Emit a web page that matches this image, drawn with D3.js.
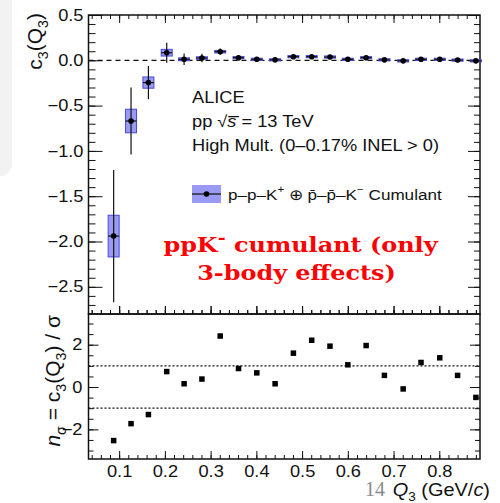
<!DOCTYPE html>
<html>
<head>
<meta charset="utf-8">
<script src="https://cdn.jsdelivr.net/npm/d3@7"></script>
<style>
  body { margin: 0; background: #fff; }
  svg { display: block; }
</style>
</head>
<body>
<svg id="chart" width="500" height="503"></svg>
<script>
// ---- data ----
// mean Q3 of each bin (GeV/c)
const q3 = [0.088, 0.126, 0.164, 0.204, 0.242, 0.281, 0.321, 0.361, 0.401, 0.441, 0.481,
            0.521, 0.561, 0.600, 0.640, 0.680, 0.721, 0.760, 0.801, 0.840, 0.880];
// three-body cumulant c3(Q3)
const c3 = [-1.94, -0.67, -0.246, 0.084, 0.011, 0.025, 0.095, 0.029, 0.011, 0.005, 0.040,
            0.040, 0.036, 0.011, 0.029, 0.005, -0.006, 0.011, 0.011, 0.002, -0.006];
// statistical uncertainty
const statErr = [0.73, 0.37, 0.183, 0.11, 0.064, 0.046, 0.035, 0.03, 0.025, 0.025, 0.025,
                 0.02, 0.02, 0.02, 0.02, 0.02, 0.02, 0.02, 0.02, 0.02, 0.02];
// systematic uncertainty (boxes)
const sysErr = [0.23, 0.13, 0.062, 0.037, 0.016, 0.014, 0.014, 0.012, 0.012, 0.012, 0.012,
                0.012, 0.012, 0.012, 0.012, 0.012, 0.012, 0.012, 0.012, 0.012, 0.012];
const boxHalfWidth = 0.012;
// significance n_sigma = c3 / sigma
const nSigma = [-2.53, -1.73, -1.30, 0.73, 0.155, 0.376, 2.41, 0.875, 0.67, 0.155, 1.60,
                2.21, 1.93, 1.05, 1.96, 0.55, -0.09, 1.16, 1.38, 0.55, -0.49];

const xMajor = [0.1, 0.2, 0.3, 0.4, 0.5, 0.6, 0.7, 0.8];
const xMinor = d3.range(2, 45).map(i => i * 0.02);
const topMajor = [0.5, 0, -0.5, -1, -1.5, -2, -2.5];
const topMinor = d3.range(-27, 6).map(i => i * 0.1);
const botMajor = [-2, 0, 2];
const botMinor = d3.range(-6, 7).map(i => i * 0.5);
const sigmaBands = [1, -1];

// ---- layout ----
const L = 88.5, R = 480, T = 15, MID = 314, B = 459;
const SX = 1.14;          // horizontal widening of the text
const FONT = "'Liberation Sans', Arial, sans-serif";

const svg = d3.select("#chart");

// light side tab at the left edge
svg.append("rect").attr("x", -14).attr("y", -14).attr("width", 26).attr("height", 190)
  .attr("rx", 12).attr("fill", "#f2f2f2");

const x = d3.scaleLinear().domain([0.033, 0.889]).range([L, R]);
const yTop = d3.scaleLinear().domain([-2.8, 0.5]).range([MID, T]);
const yBot = d3.scaleLinear().domain([-3.4, 3.45]).range([B, MID]);

// stretched text helper; segments allow sub/superscripts and italics
function richText(parent, px, py, segs, opt = {}) {
  const t = parent.append("text")
    .attr("transform", opt.transform || `translate(${px},${py}) scale(${SX},1)`)
    .attr("font-family", opt.family || FONT)
    .attr("font-size", opt.size || 16)
    .attr("font-weight", opt.weight || null)
    .attr("fill", opt.fill || "#111")
    .attr("text-anchor", opt.anchor || "start");
  let shift = 0;
  const base = opt.size || 16;
  segs.forEach(s => {
    if (typeof s === "string") s = { t: s };
    const ts = t.append("tspan").text(s.t);
    let target = 0;
    if (s.sup) target = -0.42 * base;
    if (s.sub) target = 0.28 * base;
    if (target !== shift) { ts.attr("dy", target - shift); shift = target; }
    if (s.sup || s.sub) ts.attr("font-size", base * (s.scale || 0.68));
    if (s.italic) ts.attr("font-style", "italic");
  });
  return t;
}

function styleAxis(g, w) {
  g.select(".domain").remove();
  g.selectAll(".tick line").attr("stroke", "#111").attr("stroke-width", w || 1);
}

function stretchLabels(g) {
  g.selectAll(".tick text")
    .attr("fill", "#111")
    .attr("font-family", FONT)
    .attr("font-size", 16)
    .attr("transform", function () {
      const xx = +d3.select(this).attr("x") || 0;
      return `translate(${xx},0) scale(${SX},1) translate(${-xx},0)`;
    });
}

function addAxis(gen, tx, ty, w) {
  const g = svg.append("g").attr("transform", `translate(${tx},${ty})`).call(gen);
  styleAxis(g, w);
  return g;
}
const none = () => "";

// ---- axes of the upper panel ----
let g = addAxis(d3.axisLeft(yTop).tickValues(topMajor).tickSize(-14).tickSizeOuter(0)
  .tickPadding(5).tickFormat(d3.format(".1f")), L, 0);
stretchLabels(g);
addAxis(d3.axisLeft(yTop).tickValues(topMinor).tickSize(-7).tickSizeOuter(0).tickFormat(none), L, 0);
addAxis(d3.axisRight(yTop).tickValues(topMajor).tickSize(-12).tickSizeOuter(0).tickFormat(none), R, 0);
addAxis(d3.axisRight(yTop).tickValues(topMinor).tickSize(-6).tickSizeOuter(0).tickFormat(none), R, 0);
addAxis(d3.axisTop(x).tickValues(xMajor).tickSize(-8).tickSizeOuter(0).tickFormat(none), 0, T);
addAxis(d3.axisTop(x).tickValues(xMinor).tickSize(-4).tickSizeOuter(0).tickFormat(none), 0, T);
addAxis(d3.axisBottom(x).tickValues(xMajor).tickSize(-8).tickSizeOuter(0).tickFormat(none), 0, MID);
addAxis(d3.axisBottom(x).tickValues(xMinor).tickSize(-4).tickSizeOuter(0).tickFormat(none), 0, MID);

// ---- axes of the lower panel ----
g = addAxis(d3.axisLeft(yBot).tickValues(botMajor).tickSize(-10).tickSizeOuter(0)
  .tickPadding(6).tickFormat(d3.format("d")), L, 0);
stretchLabels(g);
addAxis(d3.axisLeft(yBot).tickValues(botMinor).tickSize(-5).tickSizeOuter(0).tickFormat(none), L, 0);
addAxis(d3.axisRight(yBot).tickValues(botMajor).tickSize(-10).tickSizeOuter(0).tickFormat(none), R, 0);
addAxis(d3.axisRight(yBot).tickValues(botMinor).tickSize(-5).tickSizeOuter(0).tickFormat(none), R, 0);
addAxis(d3.axisTop(x).tickValues(xMajor).tickSize(8).tickSizeOuter(0).tickFormat(none), 0, MID);
addAxis(d3.axisTop(x).tickValues(xMinor).tickSize(4).tickSizeOuter(0).tickFormat(none), 0, MID);
g = addAxis(d3.axisBottom(x).tickValues(xMajor).tickSize(-8).tickSizeOuter(0)
  .tickPadding(0).tickFormat(d3.format(".1f")), 0, B);
g.selectAll(".tick text").attr("y", 18.5).attr("dy", null);
stretchLabels(g);
addAxis(d3.axisBottom(x).tickValues(xMinor).tickSize(-4).tickSizeOuter(0).tickFormat(none), 0, B);

// ---- frames ----
svg.append("rect").attr("x", L).attr("y", T).attr("width", R - L).attr("height", MID - T)
  .attr("fill", "none").attr("stroke", "#111").attr("stroke-width", 1.5);
svg.append("rect").attr("x", L).attr("y", MID).attr("width", R - L).attr("height", B - MID)
  .attr("fill", "none").attr("stroke", "#111").attr("stroke-width", 1.5);

// ---- upper panel: cumulant ----
svg.append("line").attr("x1", L).attr("x2", R).attr("y1", yTop(0)).attr("y2", yTop(0))
  .attr("stroke", "#111").attr("stroke-width", 1.2).attr("stroke-dasharray", "5,4");

const pts = q3.map((q, i) => ({ q, v: c3[i], s: statErr[i], sys: sysErr[i] }));
const BOX_FILL = "#9a9af4", BOX_STROKE = "#4848dc";

const pg = svg.append("g");
pg.selectAll("rect.sys").data(pts).join("rect").attr("class", "sys")
  .attr("x", d => x(d.q - boxHalfWidth))
  .attr("width", d => x(d.q + boxHalfWidth) - x(d.q - boxHalfWidth))
  .attr("y", d => yTop(d.v + d.sys))
  .attr("height", d => yTop(d.v - d.sys) - yTop(d.v + d.sys))
  .attr("fill", BOX_FILL).attr("stroke", BOX_STROKE).attr("stroke-width", 1);
pg.selectAll("line.stat").data(pts).join("line").attr("class", "stat")
  .attr("x1", d => x(d.q)).attr("x2", d => x(d.q))
  .attr("y1", d => yTop(d.v + d.s)).attr("y2", d => yTop(d.v - d.s))
  .attr("stroke", "#111").attr("stroke-width", 1.2);
pg.selectAll("line.xerr").data(pts).join("line").attr("class", "xerr")
  .attr("x1", d => x(d.q - boxHalfWidth)).attr("x2", d => x(d.q + boxHalfWidth))
  .attr("y1", d => yTop(d.v)).attr("y2", d => yTop(d.v))
  .attr("stroke", "#111").attr("stroke-width", 1.2);
pg.selectAll("circle").data(pts).join("circle")
  .attr("cx", d => x(d.q)).attr("cy", d => yTop(d.v)).attr("r", 2.8).attr("fill", "#000");

// ---- labels inside the upper panel ----
richText(svg, 192, 103.3, ["ALICE"]);
richText(svg, 192, 127, ["pp  √", { t: "s\u0305", italic: true }, " = 13 TeV"]);
richText(svg, 192, 150.5, ["High Mult. (0–0.17% INEL > 0)"]);

// legend
const lg = svg.append("g");
lg.append("rect").attr("x", 192).attr("y", 185).attr("width", 29).attr("height", 18)
  .attr("fill", BOX_FILL).attr("stroke", "none");
lg.append("line").attr("x1", 192).attr("x2", 221).attr("y1", 194).attr("y2", 194)
  .attr("stroke", "#111").attr("stroke-width", 1.2);
lg.append("circle").attr("cx", 206.5).attr("cy", 194).attr("r", 2.8).attr("fill", "#000");
richText(svg, 228, 199.5, [
  "p–p–K", { t: "+", sup: true }, { t: " ⊕ p\u0304–p\u0304–K" }, { t: "−", sup: true }, { t: " Cumulant" }
], { size: 15 });

// annotation
const RED_FONT = "'DejaVu Serif', 'Liberation Serif', serif";
richText(svg, 300.5, 251.7, ["ppK", { t: "-", sup: true, scale: 0.8 }, { t: " cumulant (only" }],
  { size: 21, family: RED_FONT, weight: "bold", fill: "#ff0000", anchor: "middle" });
richText(svg, 296.5, 280, ["3-body effects)"],
  { size: 21, family: RED_FONT, weight: "bold", fill: "#ff0000", anchor: "middle" });

// ---- lower panel: significance ----
svg.selectAll("line.band").data(sigmaBands).join("line").attr("class", "band")
  .attr("x1", L).attr("x2", R).attr("y1", d => yBot(d)).attr("y2", d => yBot(d))
  .attr("stroke", "#111").attr("stroke-width", 1.2).attr("stroke-dasharray", "2,2");
const SQ = 5.5;
svg.append("g").selectAll("rect").data(q3.map((q, i) => ({ q, n: nSigma[i] }))).join("rect")
  .attr("x", d => x(d.q) - SQ / 2).attr("y", d => yBot(d.n) - SQ / 2)
  .attr("width", SQ).attr("height", SQ).attr("fill", "#000");

// ---- axis titles ----
richText(svg, 0, 0, ["c", { t: "3", sub: true }, "(Q", { t: "3", sub: true }, ")"],
  { transform: "translate(42,13) rotate(-90)", anchor: "end", size: 21 });
richText(svg, 0, 0, [{ t: "n", italic: true }, { t: "σ", sub: true }, " = c", { t: "3", sub: true },
  "(Q", { t: "3", sub: true }, ") / σ"],
  { transform: "translate(60,315) rotate(-90)", anchor: "end", size: 21 });

// page number, just left of the x title
svg.append("text").attr("x", 365).attr("y", 496).attr("font-family", "'Liberation Serif', serif")
  .attr("font-size", 20).attr("fill", "#8a8a8a").text("14");
richText(svg, 490, 496, [{ t: "Q", italic: true }, { t: "3", sub: true }, " (GeV/", { t: "c", italic: true }, ")"],
  { anchor: "end", size: 17.5 });
</script>
</body>
</html>
